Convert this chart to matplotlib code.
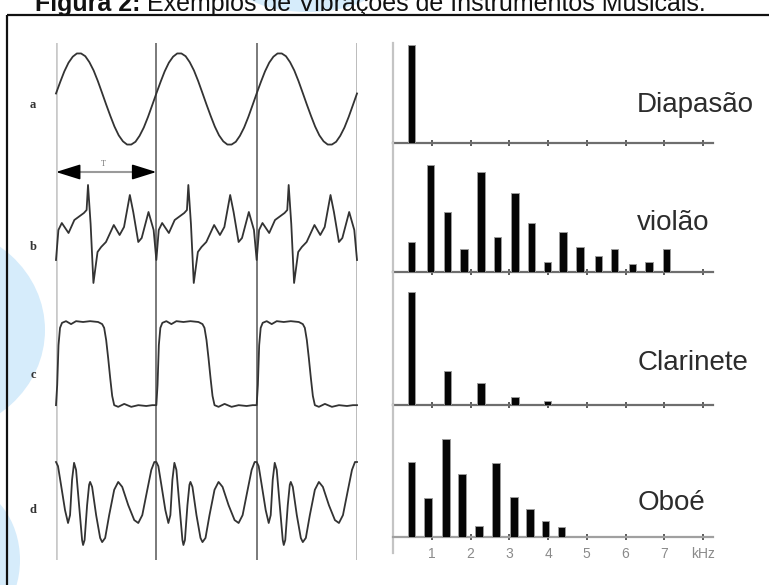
import numpy as np
import matplotlib
matplotlib.use("Agg")
from matplotlib import pyplot as plt
from matplotlib.patches import Ellipse

plt.rcParams['font.family'] = ['Liberation Sans', 'DejaVu Sans']

W, H = 769, 585

title_bold = "Figura 2:"
title_rest = " Exemplos de Vibrações de Instrumentos Musicais."

# one period of each waveform: phase (0..1) and normalised amplitude
a_phase = [0, .042, .083, .125, .167, .208, .25, .292, .333, .375, .417, .458, .5,
           .542, .583, .625, .667, .708, .75, .792, .833, .875, .917, .958, 1.0]
a_vals = [0.12, 0.37, 0.60, 0.79, 0.92, 0.99, 0.99, 0.93, 0.80, 0.62, 0.39, 0.14, -0.12,
          -0.37, -0.60, -0.79, -0.92, -0.99, -0.99, -0.93, -0.80, -0.62, -0.39, -0.14, 0.12]

b_phase = [0.0, 0.024, 0.058, 0.125, 0.183, 0.278, 0.305, 0.319, 0.345, 0.373, 0.414,
           0.45, 0.498, 0.576, 0.634, 0.678, 0.736, 0.770, 0.820, 0.854, 0.922, 0.973, 1.0]
b_vals = [-0.52, 0.08, 0.22, 0.02, 0.28, 0.42, 0.48, 0.98, 0.20, -0.98, -0.36,
          -0.26, -0.16, 0.18, -0.02, 0.14, 0.78, 0.44, -0.16, -0.08, 0.44, 0.08, -0.52]

c_phase = [0.0, 0.012, 0.025, 0.04, 0.06, 0.10, 0.15, 0.20, 0.27, 0.34, 0.42, 0.46, 0.48,
           0.50, 0.52, 0.54, 0.56, 0.58, 0.62, 0.68, 0.75, 0.82, 0.90, 0.96, 1.0]
c_vals = [-0.98, -0.50, 0.45, 0.86, 0.98, 1.02, 0.95, 1.02, 1.0, 1.02, 1.0, 0.95, 0.86,
          0.57, 0.14, -0.33, -0.76, -0.98, -1.02, -0.95, -1.02, -0.98, -1.0, -0.98, -0.98]

d_phase = [0.00, 0.02, 0.05, 0.09, 0.12, 0.14, 0.16, 0.18, 0.20, 0.23, 0.26, 0.27, 0.285,
           0.31, 0.33, 0.34, 0.36, 0.40, 0.44, 0.46, 0.49, 0.53, 0.58, 0.62, 0.66, 0.72,
           0.78, 0.82, 0.86, 0.91, 0.95, 0.98, 1.00]
d_vals = [1.0, 0.9, 0.45, -0.16, -0.47, -0.28, 0.57, 0.98, 0.81, -0.04, -0.88, -1.0, -0.88,
          -0.04, 0.45, 0.52, 0.40, -0.28, -0.83, -0.93, -0.83, -0.28, 0.33, 0.52, 0.40, -0.04,
          -0.40, -0.47, -0.28, 0.33, 0.81, 1.0, 1.0]

row_names = ["a", "b", "c", "d"]

# spectra: frequency (kHz) and relative amplitude
diap_freq = [0.47]
diap_amp = [98]
violao_freq = [0.47, 0.96, 1.40, 1.83, 2.27, 2.69, 3.15, 3.57, 3.98, 4.39, 4.83, 5.30,
               5.71, 6.18, 6.61, 7.05]
violao_amp = [30, 107, 60, 23, 100, 35, 79, 49, 10, 40, 25, 16, 23, 8, 10, 23]
clar_freq = [0.47, 1.40, 2.27, 3.15, 3.98]
clar_amp = [113, 34, 22, 8, 4]
oboe_freq = [0.47, 0.90, 1.37, 1.78, 2.22, 2.66, 3.12, 3.54, 3.94, 4.34]
oboe_amp = [75, 39, 98, 63, 11, 74, 40, 28, 16, 10]
names = ["Diapasão", "violão", "Clarinete", "Oboé"]
khz_ticks = [0, 1, 2, 3, 4, 5, 6, 7, 8]
khz_labels = ["", "1", "2", "3", "4", "5", "6", "7", "kHz"]

fig = plt.figure(figsize=(W / 100, H / 100), dpi=100)


def px_axes(x0, y0, x1, y1):
    ax = fig.add_axes([x0 / W, 1 - y1 / H, (x1 - x0) / W, (y1 - y0) / H])
    ax.patch.set_visible(False)
    return ax


# background: watermark, frame and title
bg = px_axes(0, 0, W, H)
bg.set_xlim(0, W)
bg.set_ylim(H, 0)
bg.axis('off')
bg.set_zorder(-1)
bg.add_patch(Ellipse((-70, 330), 230, 210, color='#d6ecfb', lw=0))
bg.add_patch(Ellipse((-40, 560), 120, 150, color='#d6ecfb', lw=0))
bg.add_patch(Ellipse((308, -16), 140, 56, color='#d6ecfb', lw=0))
bg.plot([7, 7], [15, H], color='#111111', lw=1.6, solid_capstyle='butt')
bg.plot([7, W], [15, 15], color='#111111', lw=1.6, solid_capstyle='butt')
t1 = bg.text(35, 11, title_bold, fontsize=18, weight='bold', va='baseline', color='#111111')
bg.annotate(title_rest, xy=(1, 0), xycoords=t1, va='bottom', ha='left',
            fontsize=18, color='#111111')

# left: waveforms
wl = px_axes(56, 43, 357, 560)
wl.set_xlim(0, 3)
wl.set_ylim(560, 43)
wl.axis('off')

line_styles = [('#c9c9c9', 2.6), ('#707070', 1.3), ('#707070', 1.3), ('#a8a8a8', 1.8)]
for k, (col, lw) in enumerate(line_styles):
    wl.axvline(k, color=col, lw=lw, zorder=1)

waves = [(a_phase, a_vals), (b_phase, b_vals), (c_phase, c_vals), (d_phase, d_vals)]
centers = [99, 234, 364, 503.5]
amps = [46, 50, 42, 41.5]
label_y = [105, 247, 375, 510]
for (ph, vals), cy, amp, name, ly in zip(waves, centers, amps, row_names, label_y):
    x = np.concatenate([np.array(ph) + k for k in range(3)])
    y = np.tile(vals, 3)
    wl.plot(x, cy - amp * y, color='#333333', lw=1.3, zorder=3, clip_on=False)
    wl.text(-0.23, ly, name, family='Liberation Serif', fontsize=9, weight='bold',
            ha='center', va='center', color='#333333')

# period arrow T
wl.plot([0.15, 0.85], [172, 172], color='#9a9a9a', lw=1.5, zorder=2)
for start, end in [(0.2, 0.0), (0.8, 1.0)]:
    wl.annotate('', xy=(end, 172), xytext=(start, 172),
                arrowprops=dict(arrowstyle='-|>,head_length=1.5,head_width=0.47',
                                mutation_scale=10, color='black', lw=1.2,
                                shrinkA=0, shrinkB=0))
wl.text(0.47, 164, "T", family='Liberation Serif', fontsize=6, color='#777777',
        ha='center', va='center')

# right: spectra
spectra = [(diap_freq, diap_amp), (violao_freq, violao_amp),
           (clar_freq, clar_amp), (oboe_freq, oboe_amp)]
tops = [43, 143, 272, 405]
bases = [143, 272, 405, 537]
name_y = [31, 42, 35, 27]
for i, ((fq, amp), name) in enumerate(zip(spectra, names)):
    bottom = 553 if i == 3 else bases[i]
    ax = px_axes(393, tops[i], 712.7, bottom)
    ax.set_xlim(0, 8.25)
    ax.set_ylim(-(bottom - bases[i]), bases[i] - tops[i])
    ax.bar(fq, amp, width=0.19, color='#050505', edgecolor='#9a9a9a', lw=0.7, zorder=3)
    for s in ['top', 'right']:
        ax.spines[s].set_visible(False)
    ax.spines['left'].set_color('#c4c4c4')
    ax.spines['left'].set_linewidth(1.6)
    ax.spines['bottom'].set_position(('data', 0))
    ax.spines['bottom'].set_color('#a0a0a0' if i == 3 else '#6e6e6e')
    ax.spines['bottom'].set_linewidth(1.6)
    ax.set_yticks([])
    ax.set_xticks(khz_ticks)
    ax.tick_params(axis='x', direction='inout', length=5, width=1.2, color='#404040',
                   labelsize=10, labelcolor='#8a8a8a', pad=5)
    if i == 3:
        ax.set_xticklabels(khz_labels)
    else:
        ax.set_xticklabels([])
    ax.text(6.30, name_y[i], name, fontsize=20, color='#2c2c2c', va='baseline', ha='left')

fig.savefig("out.png", dpi=100)
